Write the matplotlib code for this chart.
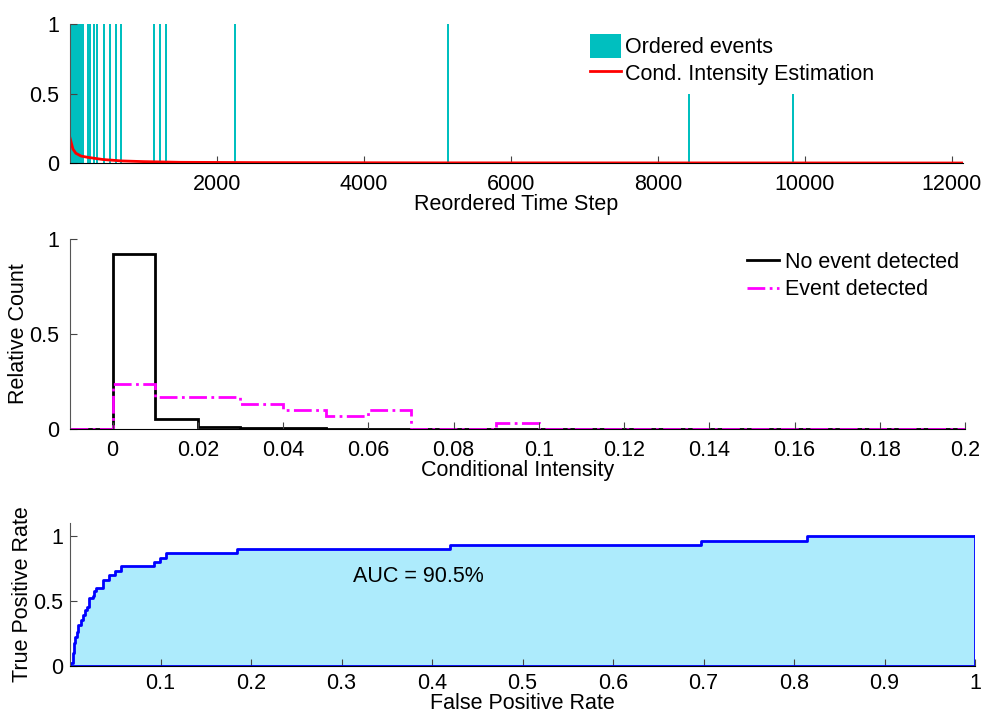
import matplotlib
matplotlib.use("Agg")
import matplotlib.pyplot as plt
import numpy as np

plt.rcParams['font.family'] = ['Liberation Sans', 'DejaVu Sans']
plt.rcParams['font.size'] = 15.5

# --- panel 1: ordered events + conditional intensity ---
event_times = [3, 15, 27, 38, 50, 62, 75, 88, 100, 115, 130, 148, 165, 178,
               241, 272, 331, 363, 459, 540, 622, 698, 1143, 1229, 1306,
               2245, 5143, 8422, 9837]
event_heights = [1] * 27 + [0.5, 0.5]

intensity_t = [0, 15, 40, 80, 150, 250, 450, 700, 1000, 1500, 2500, 5000, 12150]
intensity_v = [0.18, 0.15, 0.10, 0.07, 0.05, 0.04, 0.025, 0.015, 0.01, 0.005,
               0.003, 0.001, 0.0]

# --- panel 2: histograms of conditional intensity ---
bin_edges = np.round(np.arange(-0.01, 0.2001, 0.01), 3)
no_event = [0, 0.92, 0.055, 0.012, 0.006, 0.004, 0.002, 0.001, 0, 0, 0,
            0, 0, 0, 0, 0, 0, 0, 0, 0, 0]
event = [0, 0.235, 0.168, 0.168, 0.133, 0.10, 0.067, 0.10, 0, 0, 0.033,
         0, 0, 0, 0, 0, 0, 0, 0, 0, 0]

# --- panel 3: ROC curve ---
fpr = [0, 0.0, 0.003, 0.0044, 0.0059, 0.0074, 0.0092, 0.0118, 0.014, 0.0166,
       0.019, 0.021, 0.025, 0.0265, 0.029, 0.037, 0.043, 0.05, 0.056, 0.093,
       0.0995, 0.106, 0.185, 0.42, 0.697, 0.814, 1.0]
tpr = [0, 0.02, 0.096, 0.173, 0.224, 0.263, 0.315, 0.353, 0.392, 0.43,
       0.45, 0.52, 0.534, 0.572, 0.6, 0.663, 0.696, 0.727, 0.766, 0.80,
       0.83, 0.869, 0.90, 0.933, 0.965, 1.0, 1.0]
auc_text = "AUC = 90.5%"

fig = plt.figure(figsize=(9.82, 7.12), dpi=100)


def matlab_style(ax, pad=8):
    for s in ["top", "right"]:
        ax.spines[s].set_visible(False)
    ax.spines["left"].set_color("#555555")
    ax.spines["bottom"].set_color("black")
    ax.tick_params(direction="in", length=5, color="#444444", pad=pad)


# top panel
ax1 = fig.add_axes([70 / 982, 1 - 163 / 712, 893 / 982, 139 / 712])
bars = ax1.bar(event_times, event_heights, width=30, color="#00BFBF", linewidth=0)
line, = ax1.plot(intensity_t, intensity_v, color="red", lw=2)
ax1.set_xlim(0, 12150)
ax1.set_ylim(0, 1)
ax1.set_xticks(range(2000, 12001, 2000))
ax1.set_yticks([0, 0.5, 1])
ax1.set_yticklabels(["0", "0.5", "1"])
ax1.set_xlabel("Reordered Time Step", labelpad=-1)
matlab_style(ax1)
ax1.legend([bars, line], ["Ordered events", "Cond. Intensity Estimation"],
           loc="upper left", bbox_to_anchor=(0.568, 1.02), frameon=False,
           handlelength=1.45, handleheight=1.3, handletextpad=0.15,
           labelspacing=0.15, borderaxespad=0.2)

# middle panel
ax2 = fig.add_axes([70 / 982, 1 - 429 / 712, 895 / 982, 190 / 712])
ax2.stairs(no_event, bin_edges, color="black", lw=2, label="No event detected")
ax2.stairs(event, bin_edges, color="magenta", lw=2, linestyle="-.",
           label="Event detected")
ax2.set_xlim(-0.01, 0.2)
ax2.set_ylim(0, 1)
ax2.set_xticks(np.round(np.arange(0, 0.2001, 0.02), 2))
ax2.set_xticklabels(["%g" % v for v in np.round(np.arange(0, 0.2001, 0.02), 2)])
ax2.set_yticks([0, 0.5, 1])
ax2.set_yticklabels(["0", "0.5", "1"])
ax2.set_xlabel("Conditional Intensity", labelpad=-1)
ax2.set_ylabel("Relative Count", labelpad=0)
matlab_style(ax2)
ax2.legend(loc="upper right", bbox_to_anchor=(1.008, 1.0), frameon=False,
           handlelength=1.45, handletextpad=0.3, labelspacing=0.3, borderaxespad=0.2)

# bottom panel
ax3 = fig.add_axes([70 / 982, 1 - 665.7 / 712, 905 / 982, 142.7 / 712])
ax3.fill_between(fpr, tpr, step="post", color="#ADEBFC", lw=0)
ax3.step(fpr, tpr, where="post", color="#0000FF", lw=2)
ax3.plot([0, 1], [0, 0], color="#0000FF", lw=2)
ax3.plot([1, 1], [0, 1], color="#0000FF", lw=2)
ax3.text(0.313, 0.69, auc_text, va="center", ha="left")
ax3.set_xlim(0, 1)
ax3.set_ylim(0, 1.1)
ax3.set_xticks(np.round(np.arange(0.1, 1.001, 0.1), 1))
ax3.set_xticklabels(["%g" % v for v in np.round(np.arange(0.1, 1.001, 0.1), 1)])
ax3.set_yticks([0, 0.5, 1])
ax3.set_yticklabels(["0", "0.5", "1"])
matlab_style(ax3, pad=5)
ax3.set_xlabel("False Positive Rate", va="baseline")
ax3.xaxis.set_label_coords(0.5, -0.30)
ax3.set_ylabel("True Positive Rate", labelpad=0)

fig.savefig("out.png", dpi=100)
